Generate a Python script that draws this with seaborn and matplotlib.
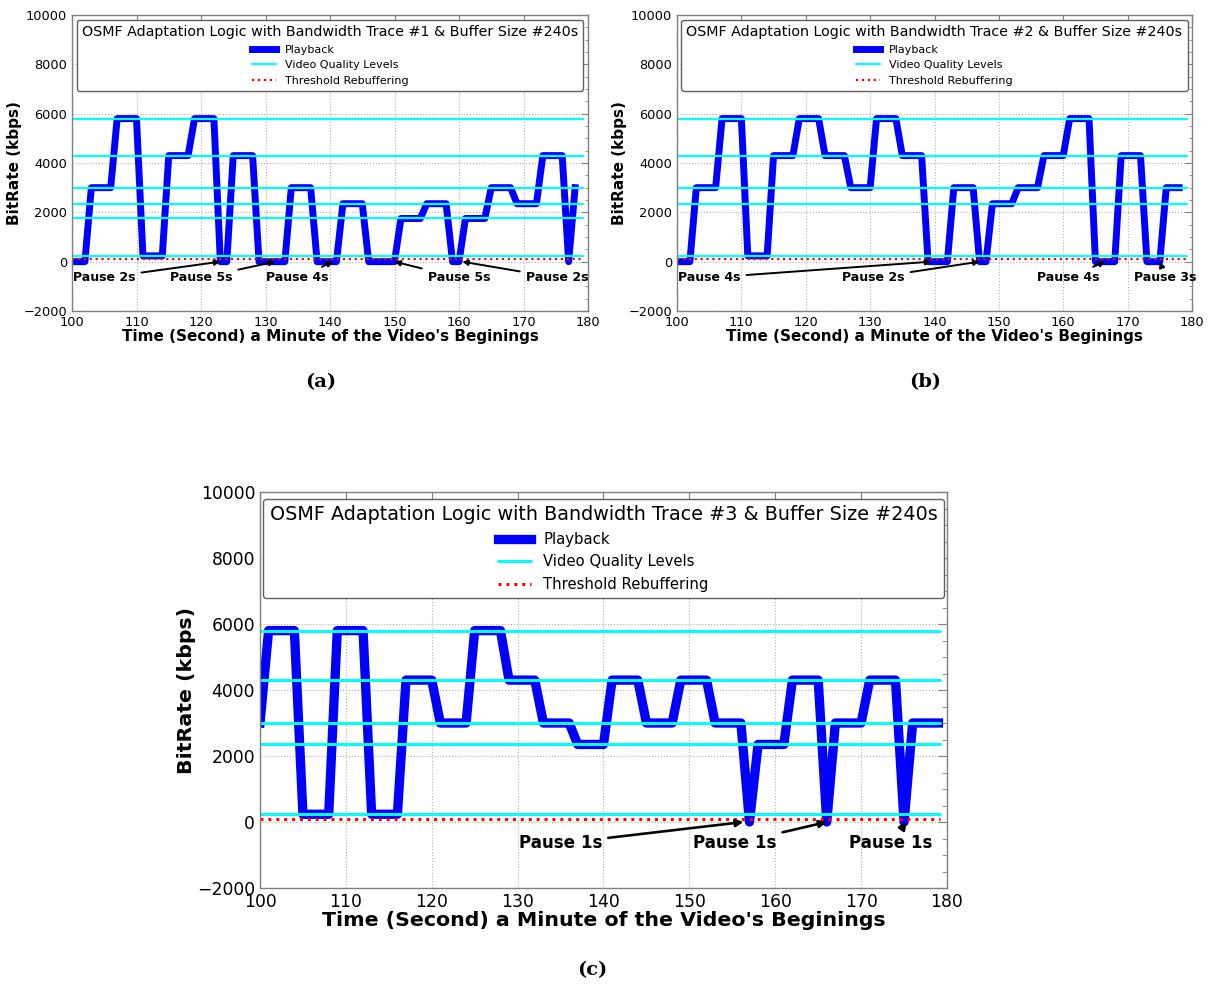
import numpy as np
import matplotlib
matplotlib.use('Agg')
import matplotlib.pyplot as plt
from matplotlib.ticker import MultipleLocator
import seaborn as sns

# Style: white background, dotted grid, inward ticks
sns.set_style('whitegrid', {'grid.linestyle': ':', 'grid.color': '#b0b0b0',
                            'axes.edgecolor': '#808080',
                            'xtick.direction': 'in', 'ytick.direction': 'in'})
plt.rcParams['font.family'] = ['DejaVu Sans']
plt.rcParams['text.color'] = 'black'
plt.rcParams['axes.labelcolor'] = 'black'

# Bitrate (kbps) sampled every second from t=100
playback_a = [0, 0, 0, 3000, 3000, 3000, 3000, 5800, 5800, 5800, 5800,
              235, 235, 235, 235, 4300, 4300, 4300, 4300, 5800, 5800, 5800, 5800,
              0, 0, 4300, 4300, 4300, 4300, 0, 0, 0, 0, 0, 3000, 3000, 3000, 3000,
              0, 0, 0, 0, 2350, 2350, 2350, 2350, 0, 0, 0, 0, 0,
              1750, 1750, 1750, 1750, 2350, 2350, 2350, 2350, 0, 0,
              1750, 1750, 1750, 1750, 3000, 3000, 3000, 3000, 2350, 2350, 2350, 2350,
              4300, 4300, 4300, 4300, 0, 3000]
playback_b = [0, 0, 0, 3000, 3000, 3000, 3000, 5800, 5800, 5800, 5800,
              235, 235, 235, 235, 4300, 4300, 4300, 4300, 5800, 5800, 5800, 5800,
              4300, 4300, 4300, 4300, 3000, 3000, 3000, 3000, 5800, 5800, 5800, 5800,
              4300, 4300, 4300, 4300, 0, 0, 0, 0, 3000, 3000, 3000, 3000, 0, 0,
              2350, 2350, 2350, 2350, 3000, 3000, 3000, 3000, 4300, 4300, 4300, 4300,
              5800, 5800, 5800, 5800, 0, 0, 0, 0, 4300, 4300, 4300, 4300,
              0, 0, 0, 3000, 3000, 3000]
playback_c = [3000, 5800, 5800, 5800, 5800, 235, 235, 235, 235,
              5800, 5800, 5800, 5800, 235, 235, 235, 235, 4300, 4300, 4300, 4300,
              3000, 3000, 3000, 3000, 5800, 5800, 5800, 5800, 4300, 4300, 4300, 4300,
              3000, 3000, 3000, 3000, 2350, 2350, 2350, 2350, 4300, 4300, 4300, 4300,
              3000, 3000, 3000, 3000, 4300, 4300, 4300, 4300, 3000, 3000, 3000, 3000,
              0, 2350, 2350, 2350, 2350, 4300, 4300, 4300, 4300, 0,
              3000, 3000, 3000, 3000, 4300, 4300, 4300, 4300, 0, 3000, 3000, 3000, 3000]

levels_a = [235, 1750, 2350, 3000, 4300, 5800]
levels_bc = [235, 2350, 3000, 4300, 5800]
threshold = 100

# Pause annotations: (text, arrow target x, text x)
pauses_a = [('Pause 2s', 123, 105), ('Pause 5s', 131.5, 120), ('Pause 4s', 140.5, 135),
            ('Pause 5s', 150, 160), ('Pause 2s', 160.5, 175.2)]
pauses_b = [('Pause 4s', 139.5, 105), ('Pause 2s', 147, 130.5),
            ('Pause 4s', 166.5, 160.7), ('Pause 3s', 175, 175.9)]
pauses_c = [('Pause 1s', 156.3, 135), ('Pause 1s', 166, 155.3), ('Pause 1s', 175.3, 173.5)]

titles = ['OSMF Adaptation Logic with Bandwidth Trace #1 & Buffer Size #240s',
          'OSMF Adaptation Logic with Bandwidth Trace #2 & Buffer Size #240s',
          'OSMF Adaptation Logic with Bandwidth Trace #3 & Buffer Size #240s']


def draw_panel(ax, values, levels, pauses, title, s):
    t = np.arange(100, 100 + len(values))
    sns.lineplot(x=t, y=values, ax=ax, color='blue', linewidth=5 * s,
                 label='Playback', legend=False,
                 solid_capstyle='projecting', solid_joinstyle='round')
    for i, lv in enumerate(levels):
        ax.axhline(lv, xmin=0, xmax=0.99, color='cyan', lw=1.6 * s,
                   label='Video Quality Levels' if i == 0 else None)
    ax.axhline(threshold, xmin=0, xmax=0.99, color='red', ls=':', lw=1.6 * s,
               label='Threshold Rebuffering')
    for txt, xa, xt in pauses:
        ax.annotate(txt, xy=(xa, 0), xytext=(xt, -650), ha='center', va='center',
                    fontsize=9 * s, fontweight='bold', color='black',
                    arrowprops=dict(arrowstyle='-|>', color='black', lw=1.4 * s,
                                    mutation_scale=8 * s, shrinkA=2, shrinkB=0))
    ax.set_xlim(100, 180)
    ax.set_ylim(-2000, 10000)
    ax.xaxis.set_major_locator(MultipleLocator(10))
    ax.yaxis.set_major_locator(MultipleLocator(2000))
    ax.yaxis.set_minor_locator(MultipleLocator(500))
    ax.tick_params(which='both', top=True, right=True, color='#808080',
                   labelcolor='black', labelsize=9.3 * s)
    ax.tick_params(which='major', length=5 * s)
    ax.tick_params(which='minor', length=2.5 * s)
    ax.set_xlabel("Time (Second) a Minute of the Video's Beginings",
                  fontsize=11 * s, fontweight='bold', labelpad=0)
    ax.set_ylabel('BitRate (kbps)', fontsize=11 * s, fontweight='bold', labelpad=1)
    for sp in ax.spines.values():
        sp.set_color('#808080')
        sp.set_linewidth(1.0)
    leg = ax.legend(title=title, loc='upper center', fontsize=8 * s,
                    title_fontsize=10.3 * s, frameon=True, fancybox=True,
                    framealpha=1, edgecolor='#606060', borderaxespad=0.45,
                    handlelength=2.2, labelspacing=0.5, borderpad=0.45)
    leg.get_frame().set_linewidth(1.0)


fig = plt.figure(figsize=(12.13, 9.88), dpi=100)
ax_a = fig.add_axes([72 / 1213, 1 - 311 / 988, 516 / 1213, 296 / 988])
ax_b = fig.add_axes([677 / 1213, 1 - 311 / 988, 515 / 1213, 296 / 988])
ax_c = fig.add_axes([260 / 1213, 1 - 888 / 988, 687 / 1213, 396 / 988])

draw_panel(ax_a, playback_a, levels_a, pauses_a, titles[0], 1.0)
draw_panel(ax_b, playback_b, levels_bc, pauses_b, titles[1], 1.0)
draw_panel(ax_c, playback_c, levels_bc, pauses_c, titles[2], 1.34)

cap = dict(fontsize=14, fontweight='bold', family='DejaVu Serif', ha='center', va='center')
fig.text(321 / 1213, 1 - 382 / 988, '(a)', **cap)
fig.text(925 / 1213, 1 - 382 / 988, '(b)', **cap)
fig.text(592 / 1213, 1 - 970 / 988, '(c)', **cap)

fig.savefig('out.png', dpi=100)
